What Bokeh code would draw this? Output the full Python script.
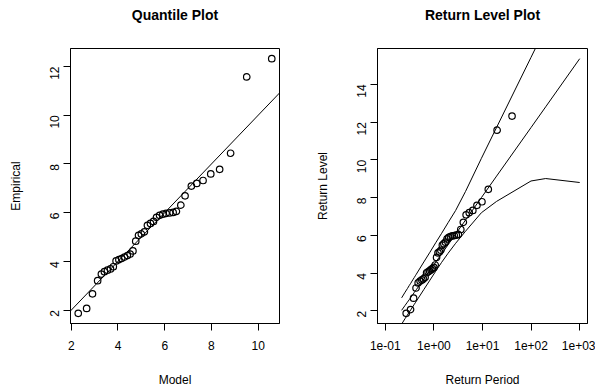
import math
from bokeh.plotting import figure
from bokeh.layouts import row
from bokeh.models import Range1d, FixedTicker, Slope, Title
from bokeh.embed import file_html
from bokeh.resources import INLINE

# ---- data ----
model_q = [2.30, 2.66, 2.91, 3.13, 3.29, 3.42, 3.55, 3.68, 3.80, 3.92,
           4.04, 4.16, 4.28, 4.40, 4.52, 4.64, 4.76, 4.88, 5.00, 5.13,
           5.26, 5.39, 5.52, 5.65, 5.78, 5.92, 6.06, 6.21, 6.36, 6.50,
           6.69, 6.87, 7.14, 7.37, 7.64, 7.97, 8.35, 8.82, 9.51, 10.58]
empirical = [1.87, 2.07, 2.67, 3.21, 3.48, 3.58, 3.64, 3.69, 3.78, 4.02,
             4.07, 4.12, 4.18, 4.24, 4.30, 4.43, 4.83, 5.07, 5.13, 5.21,
             5.48, 5.56, 5.64, 5.81, 5.89, 5.94, 5.97, 5.99, 6.01, 6.05,
             6.31, 6.69, 7.09, 7.20, 7.32, 7.59, 7.78, 8.44, 11.57, 12.32]
return_period = [0.2693, 0.3311, 0.3824, 0.4297, 0.4753, 0.5203, 0.5657, 0.6119, 0.6594, 0.7087,
                 0.7600, 0.8139, 0.8705, 0.9307, 0.9945, 1.0627, 1.1358, 1.2148, 1.3001, 1.3929,
                 1.4945, 1.6062, 1.7298, 1.8674, 2.0215, 2.1954, 2.3935, 2.6219, 2.8877, 3.2010,
                 3.5765, 4.0339, 4.6062, 5.3419, 6.3171, 7.6864, 9.7371, 13.158, 20.00, 40.49]
curve_period = [0.2171, 0.2556, 0.2852, 0.3107, 0.3338, 0.3554, 0.3760, 0.3959, 0.4153, 0.4343,
                0.6213, 0.8306, 1.0913, 1.4427, 1.9576, 2.8037, 4.4814, 9.4912, 19.496, 99.499,
                199.5, 999.5]
rl_est = [2.03, 2.29, 2.46, 2.59, 2.70, 2.81, 2.89, 2.98, 3.05, 3.12,
          3.69, 4.15, 4.58, 5.02, 5.50, 6.07, 6.81, 8.00, 9.14, 11.71,
          12.81, 15.36]
rl_lower = [1.30, 1.59, 1.78, 1.93, 2.05, 2.16, 2.26, 2.35, 2.43, 2.51,
            3.13, 3.63, 4.10, 4.57, 5.05, 5.58, 6.22, 7.20, 7.80, 8.88,
            9.01, 8.80]
rl_upper = [2.69, 2.99, 3.18, 3.34, 3.46, 3.58, 3.68, 3.77, 3.86, 3.94,
            4.59, 5.11, 5.61, 6.11, 6.67, 7.32, 8.33, 10.08, 11.72, 15.43,
            17.01, 20.68]

left_xticks = [2, 4, 6, 8, 10]
left_yticks = [2, 4, 6, 8, 10, 12]
right_xticks = [0.1, 1, 10, 100, 1000]
right_xtick_labels = ["1e-01", "1e+00", "1e+01", "1e+02", "1e+03"]
right_yticks = [2, 4, 6, 8, 10, 12, 14]

FONT = "Liberation Sans"
H = 392
TOP = 46
BOTTOM = 69


def pad(lo, hi, f=0.04):
    r = hi - lo
    return lo - f * r, hi + f * r


def style(p, ylab_standoff, title):
    p.outline_line_color = "black"
    p.outline_line_width = 1
    p.outline_line_alpha = 1
    p.grid.visible = False
    p.background_fill_color = "white"
    p.border_fill_color = "white"
    for ax in p.axis:
        ax.major_tick_out = 7
        ax.major_tick_in = 0
        ax.minor_tick_out = 0
        ax.minor_tick_in = 0
        ax.axis_line_color = "black"
        ax.major_tick_line_color = "black"
        ax.major_label_text_font = FONT
        ax.major_label_text_font_size = "12px"
        ax.major_label_text_color = "black"
        ax.axis_label_text_font = FONT
        ax.axis_label_text_font_size = "12px"
        ax.axis_label_text_font_style = "normal"
        ax.axis_label_text_color = "black"
        ax.major_label_standoff = 9
    p.xaxis.major_label_standoff = 10
    p.xaxis.axis_label_standoff = 20
    p.yaxis.axis_label_standoff = ylab_standoff
    p.yaxis.major_label_orientation = math.pi / 2
    # spacer nearest the frame, then the real title above it
    p.add_layout(Title(text=" ", text_font_size="1px", standoff=19), "above")
    p.add_layout(Title(text=title, text_font=FONT, text_font_size="14px",
                       text_font_style="bold", text_color="black",
                       align="center", vertical_align="bottom", standoff=8), "above")


# ---- left: quantile plot ----
lx = pad(min(model_q), max(model_q))
ly = pad(min(empirical), max(empirical))
p1 = figure(width=297, height=H, output_backend="svg", toolbar_location=None,
            x_range=Range1d(*lx), y_range=Range1d(*ly),
            min_border_left=70, min_border_right=18, min_border_top=TOP, min_border_bottom=BOTTOM,
            x_axis_label="Model", y_axis_label="Empirical")
p1.add_layout(Slope(gradient=1, y_intercept=0, line_color="black", line_width=1))
p1.scatter(model_q, empirical, marker="circle", size=6.5, fill_color=None,
           line_color="black", line_width=1.2)
p1.xaxis.ticker = FixedTicker(ticks=left_xticks)
p1.yaxis.ticker = FixedTicker(ticks=left_yticks)
style(p1, 20, "Quantile Plot")

# ---- right: return level plot ----
ry = pad(min(min(empirical), min(rl_est)), max(max(empirical), max(rl_est)))
lo10, hi10 = pad(math.log10(0.1), math.log10(1000))
p2 = figure(width=298, height=H, output_backend="svg", toolbar_location=None,
            x_axis_type="log",
            x_range=Range1d(10 ** lo10, 10 ** hi10), y_range=Range1d(*ry),
            min_border_left=80, min_border_right=8, min_border_top=TOP, min_border_bottom=BOTTOM,
            x_axis_label="Return Period", y_axis_label="Return Level")
p2.line(curve_period, rl_est, line_color="black", line_width=1)
p2.line(curve_period, rl_lower, line_color="black", line_width=1)
p2.line(curve_period, rl_upper, line_color="black", line_width=1)
p2.scatter(return_period, empirical, marker="circle", size=6.5, fill_color=None,
           line_color="black", line_width=1.2)
p2.xaxis.ticker = FixedTicker(ticks=right_xticks)
p2.xaxis.major_label_overrides = {t: s for t, s in zip(right_xticks, right_xtick_labels)}
p2.yaxis.ticker = FixedTicker(ticks=right_yticks)
style(p2, 20, "Return Level Plot")

layout = row(p1, p2)
open("out.html", "w").write(file_html(layout, INLINE))
